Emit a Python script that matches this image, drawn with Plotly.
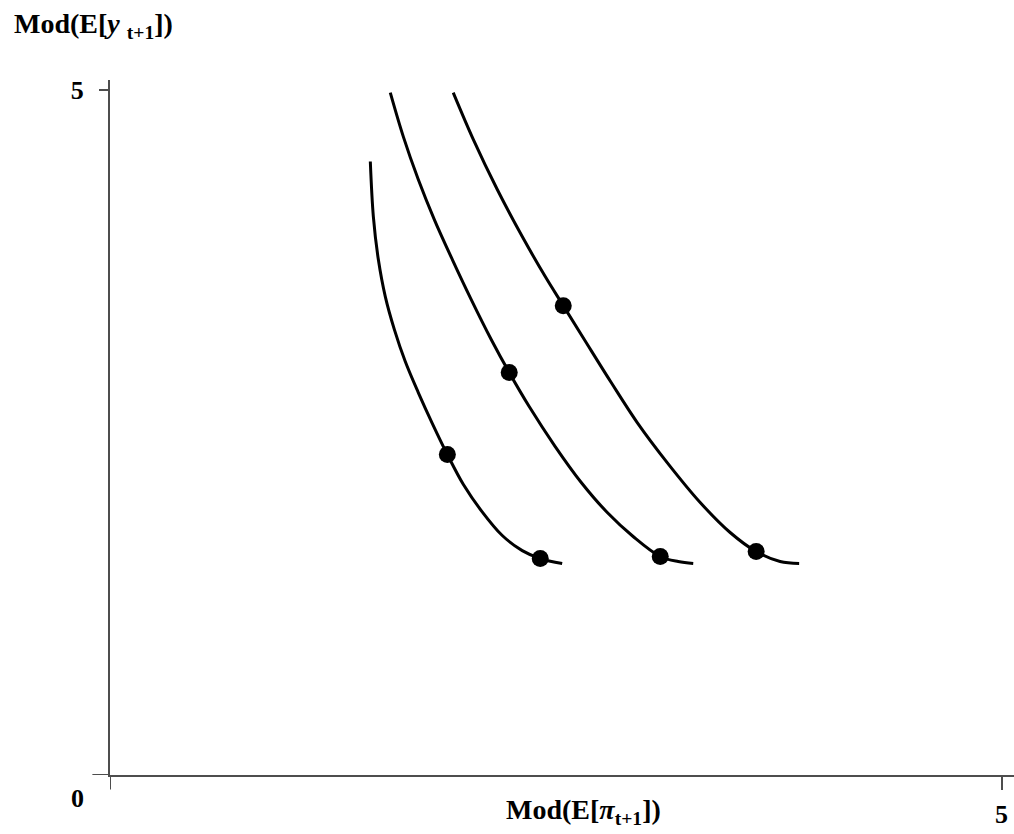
import plotly.graph_objects as go

# Curve 1 (leftmost)
c1_x = [1.460, 1.477, 1.505, 1.544, 1.595, 1.656, 1.729, 1.808, 1.892, 1.982, 2.082, 2.200, 2.312, 2.413, 2.536]
c1_y = [4.475, 4.074, 3.760, 3.490, 3.249, 3.016, 2.790, 2.564, 2.338, 2.119, 1.929, 1.747, 1.637, 1.579, 1.543]
# Curve 2 (middle)
c2_x = [1.572, 1.645, 1.729, 1.819, 1.920, 2.026, 2.138, 2.239, 2.351, 2.497, 2.643, 2.789, 2.934, 3.086, 3.187, 3.271]
c2_y = [4.978, 4.657, 4.344, 4.052, 3.760, 3.468, 3.177, 2.936, 2.688, 2.396, 2.134, 1.915, 1.740, 1.594, 1.557, 1.543]
# Curve 3 (rightmost)
c3_x = [1.925, 2.038, 2.172, 2.312, 2.441, 2.542, 2.660, 2.811, 2.957, 3.125, 3.310, 3.478, 3.624, 3.758, 3.865]
c3_y = [4.978, 4.635, 4.271, 3.928, 3.636, 3.424, 3.177, 2.863, 2.571, 2.279, 1.988, 1.769, 1.630, 1.557, 1.543]

# Highlighted points
dot_x = [1.892, 2.413, 2.239, 3.086, 2.542, 3.624]
dot_y = [2.338, 1.579, 2.936, 1.594, 3.424, 1.630]

tick_vals = [5]
tick_text = ["<b>5</b>"]

FONT = "Liberation Serif"
AXC = "#4d4d4d"

fig = go.Figure()
for cx, cy in [(c1_x, c1_y), (c2_x, c2_y), (c3_x, c3_y)]:
    fig.add_trace(go.Scatter(x=cx, y=cy, mode="lines",
                             line=dict(color="black", width=3, shape="spline", smoothing=1.0),
                             showlegend=False, hoverinfo="skip"))
fig.add_trace(go.Scatter(x=dot_x, y=dot_y, mode="markers",
                         marker=dict(color="black", size=17),
                         showlegend=False))

axis_common = dict(showgrid=False, zeroline=False, showline=True, linecolor=AXC,
                   linewidth=2, ticks="outside", tickcolor=AXC, tickwidth=1.5,
                   tickfont=dict(family=FONT, size=26, color="black"),
                   fixedrange=True, automargin=False)

fig.update_xaxes(range=[0, 5.07], tickvals=tick_vals, ticktext=tick_text, ticklen=13,
                 ticklabelstandoff=2, **axis_common)
fig.update_yaxes(range=[0, 5.07], tickvals=tick_vals, ticktext=tick_text, ticklen=9,
                 ticklabelstandoff=10, **axis_common)

# extensions of axis lines past the origin
fig.add_shape(type="line", xref="x", yref="paper", x0=0, x1=0, y0=0, y1=-0.021,
              line=dict(color=AXC, width=2))
fig.add_shape(type="line", xref="paper", yref="y", x0=0, x1=-0.0195, y0=0, y1=0,
              line=dict(color=AXC, width=2))

fig.add_annotation(text="<b>0</b>", xref="paper", yref="paper", x=-0.036, y=-0.034,
                   xanchor="center", yanchor="middle",
                   showarrow=False, font=dict(family=FONT, size=26, color="black"))
fig.add_annotation(text="<b>Mod(E[<i>π</i><sub>t+1</sub>])</b>", xref="x", yref="paper",
                   x=2.654, y=-0.052, xanchor="center", yanchor="middle", showarrow=False,
                   font=dict(family=FONT, size=28, color="black"))
fig.add_annotation(text="<b>Mod(E[<i>y</i> <sub>t+1</sub>])</b>", xref="paper", yref="paper",
                   x=-0.108, y=1.078, xanchor="left", yanchor="middle", showarrow=False,
                   font=dict(family=FONT, size=28, color="black"))

fig.update_layout(width=1014, height=834, plot_bgcolor="white", paper_bgcolor="white",
                  margin=dict(l=109.5, r=0, t=80, b=58.5))

fig.write_html("out.html", config={"displayModeBar": False},
               post_script="document.body.style.margin='0px';")
